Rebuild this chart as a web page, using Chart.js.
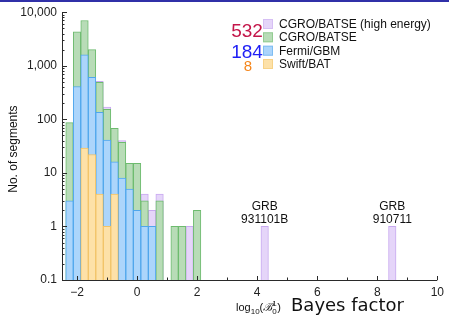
<!DOCTYPE html>
<html>
<head>
<meta charset="utf-8">
<script src="https://cdn.jsdelivr.net/npm/chart.js@4/dist/chart.umd.min.js"></script>
<style>
  html, body { margin: 0; padding: 0; background: #fff; }
  #wrap { position: relative; width: 449px; height: 324px; }
  #topbar { position: absolute; left: 0; top: 0; width: 449px; height: 2px; background: #3030a8; }
</style>
</head>
<body>
<div id="wrap">
  <canvas id="bayesChart"></canvas>
  <div id="topbar"></div>
</div>
<script>
// histogram bins (log10 Bayes factor, width 0.25) and segment counts per instrument
const binCenters = [-2.25, -2, -1.75, -1.5, -1.25, -1, -0.75, -0.5, -0.25, 0, 0.25, 0.5, 0.75, 1, 1.25, 1.5, 1.75, 2, 4.25, 8.5];
const batseHigh  = [null, null, null, null, 510, 170, null, 40, null, null, 4, 2, 4, null, null, null, 1, null, 1, 1];
const batse      = [87, 4300, 7000, 2000, 490, 154, 68, 37, 15, 15, 3, null, 3, null, 1, 1, null, 2, null, null];
const fermi      = [3, 410, 1600, 610, 135, 41, 16, 8, 5, 2, 1, 1, null, null, null, null, null, null, null, null];
const swift      = [null, null, 29, 22, 4, 1, 4, null, null, null, null, null, null, null, null, null, null, null, null, null];

const seriesNames = ['CGRO/BATSE (high energy)', 'CGRO/BATSE', 'Fermi/GBM', 'Swift/BAT'];
const grbCounts = ['532', '184', '8'];
const grbLabels = [{ x: 4.25, name: '931101B' }, { x: 8.5, name: '910711' }];

const yTicks = [0.1, 1, 10, 100, 1000, 10000];
const xTicks = [-2, 0, 2, 4, 6, 8, 10];

const FONT = '"Liberation Sans", Arial, Helvetica, sans-serif';

function toPoints(values) {
  const pts = [];
  values.forEach((v, i) => { if (v !== null) pts.push({ x: binCenters[i], y: v }); });
  return pts;
}

function series(label, values, fill, edge, order) {
  return {
    label: label,
    data: toPoints(values),
    backgroundColor: fill,
    borderColor: edge,
    borderWidth: 1,
    borderSkipped: 'bottom',
    grouped: false,
    barPercentage: 1,
    categoryPercentage: 1,
    order: order
  };
}

// axes, tick marks, legend and text labels drawn on top of the bars
const decorations = {
  id: 'decorations',
  afterDatasetsDraw(chart) {
    const { ctx, chartArea: a, scales: { x, y } } = chart;
    ctx.save();
    ctx.strokeStyle = '#2a2a2a';
    ctx.lineWidth = 1;

    ctx.beginPath();
    ctx.moveTo(a.left + 0.5, a.top);
    ctx.lineTo(a.left + 0.5, a.bottom + 0.5);
    ctx.lineTo(a.right, a.bottom + 0.5);
    ctx.stroke();

    // log ticks on the y axis, pointing inward
    ctx.beginPath();
    for (let d = -1; d <= 4; d++) {
      for (let m = 1; m <= 9; m++) {
        const v = m * Math.pow(10, d);
        if (v > 10000) break;
        const py = Math.round(y.getPixelForValue(v)) + 0.5;
        const len = m === 1 ? 5 : 2.5;
        ctx.moveTo(a.left, py);
        ctx.lineTo(a.left + len, py);
      }
    }
    ctx.stroke();

    // x ticks at every integer
    ctx.beginPath();
    for (let v = -2; v <= 10; v++) {
      const px = Math.round(x.getPixelForValue(v)) + 0.5;
      const len = v % 2 === 0 ? 4 : 2.5;
      ctx.moveTo(px, a.bottom);
      ctx.lineTo(px, a.bottom - len);
    }
    ctx.stroke();

    // legend
    const rowY = [24, 37.3, 50.7, 64];
    ctx.font = '12px ' + FONT;
    ctx.textBaseline = 'middle';
    ctx.textAlign = 'left';
    chart.data.datasets.forEach((ds, i) => {
      ctx.fillStyle = ds.backgroundColor;
      ctx.fillRect(263, rowY[i] - 5, 10, 10);
      ctx.strokeStyle = ds.borderColor;
      ctx.globalAlpha = 0.5;
      ctx.strokeRect(263.5, rowY[i] - 4.5, 9, 9);
      ctx.globalAlpha = 1;
      ctx.fillStyle = '#111';
      ctx.fillText(ds.label, 279, rowY[i] + 0.5);
    });

    // burst counts beside the legend
    ctx.textAlign = 'center';
    ctx.textBaseline = 'alphabetic';
    ctx.font = '19px ' + FONT;
    ctx.fillStyle = '#c4164a';
    ctx.fillText(grbCounts[0], 247, 37);
    ctx.fillStyle = '#1e1ef5';
    ctx.fillText(grbCounts[1], 247, 57.5);
    ctx.font = '15px ' + FONT;
    ctx.fillStyle = '#f5861c';
    ctx.fillText(grbCounts[2], 248, 70.5);

    // individual bursts
    ctx.font = '12px ' + FONT;
    ctx.fillStyle = '#111';
    grbLabels.forEach(g => {
      const px = x.getPixelForValue(g.x);
      ctx.fillText('GRB', px, 210);
      ctx.fillText(g.name, px, 223);
    });

    // y axis title
    ctx.save();
    ctx.translate(17, (a.top + a.bottom) / 2 + 3);
    ctx.rotate(-Math.PI / 2);
    ctx.font = '12px ' + FONT;
    ctx.fillText('No. of segments', 0, 0);
    ctx.restore();

    // x axis title: log10(B^1_0) Bayes factor
    ctx.textAlign = 'left';
    const base = 311;
    let cx = 236;
    ctx.font = '11px ' + FONT;
    ctx.fillText('log', cx, base);
    cx += ctx.measureText('log').width;
    ctx.font = '8px ' + FONT;
    ctx.fillText('10', cx, base + 2.5);
    cx += ctx.measureText('10').width;
    ctx.font = '11px ' + FONT;
    ctx.fillText('(', cx, base);
    cx += ctx.measureText('(').width;
    ctx.font = 'italic 11px "DejaVu Serif", serif';
    ctx.fillText('\u212C', cx, base);
    cx += ctx.measureText('\u212C').width;
    ctx.font = '8px ' + FONT;
    ctx.fillText('1', cx, base - 5.5);
    ctx.fillText('0', cx, base + 2.5);
    cx += ctx.measureText('0').width + 0.5;
    ctx.font = '11px ' + FONT;
    ctx.fillText(')', cx, base);
    ctx.font = '18px "DejaVu Sans", sans-serif';
    ctx.fillText('Bayes factor', 291, base);

    ctx.restore();
  }
};

const chart = new Chart(document.getElementById('bayesChart'), {
  type: 'bar',
  data: {
    datasets: [
      series(seriesNames[0], batseHigh, '#e5d5f9', '#c8a9f0', 4),
      series(seriesNames[1], batse, '#b8dcb7', '#6dbb6e', 3),
      series(seriesNames[2], fermi, '#acd5fb', '#4fa6ec', 2),
      series(seriesNames[3], swift, '#fde1a8', '#f2c366', 1)
    ]
  },
  options: {
    responsive: true,
    maintainAspectRatio: false,
    animation: false,
    events: [],
    layout: { padding: { top: 11, right: 9, left: 0, bottom: 0 } },
    plugins: {
      legend: { display: false },
      tooltip: { enabled: false }
    },
    scales: {
      x: {
        type: 'linear',
        min: -2.5,
        max: 10,
        offset: false,
        grid: { display: false, drawTicks: false, offset: false },
        border: { display: false },
        afterBuildTicks: s => { s.ticks = xTicks.map(v => ({ value: v })); },
        afterFit: s => { s.height = 44; },
        ticks: {
          padding: 5,
          maxRotation: 0,
          color: '#222',
          font: { family: FONT, size: 12 },
          callback: v => (v < 0 ? '\u2212' + Math.abs(v) : String(v))
        }
      },
      y: {
        type: 'logarithmic',
        min: 0.1,
        max: 10000,
        grid: { display: false, drawTicks: false },
        border: { display: false },
        afterBuildTicks: s => { s.ticks = yTicks.map(v => ({ value: v })); },
        afterFit: s => { s.width = 62; },
        ticks: {
          padding: 5,
          color: '#222',
          font: { family: FONT, size: 12 },
          callback: v => v.toLocaleString('en-US')
        }
      }
    }
  },
  plugins: [decorations]
});
</script>
</body>
</html>
